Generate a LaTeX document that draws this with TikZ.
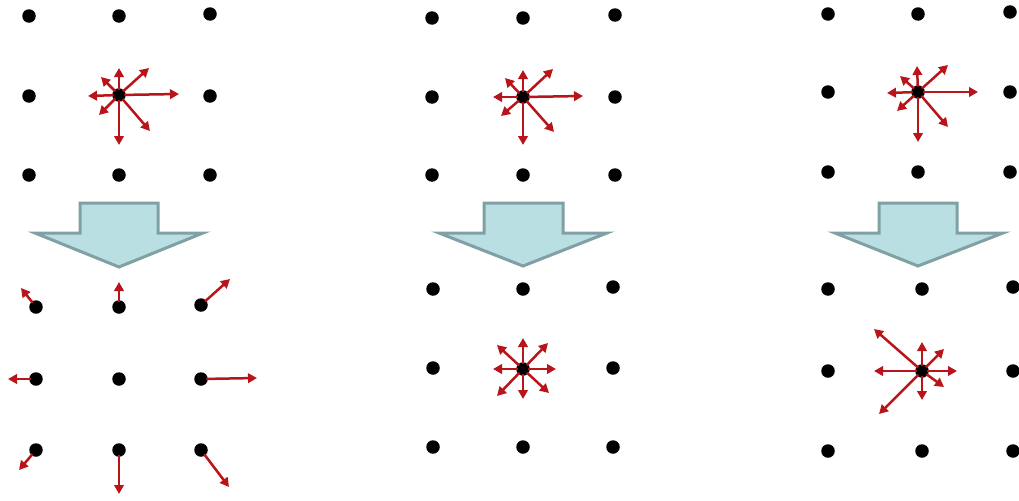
\documentclass[tikz,border=0pt]{standalone}
\usepackage{xcolor}
\usepackage{tikz}
\usetikzlibrary{arrows.meta}
\definecolor{vecred}{RGB}{185,20,25}
\definecolor{blockfill}{RGB}{186,223,227}
\definecolor{blockline}{RGB}{128,160,163}
\begin{document}
\begin{tikzpicture}[x=0.2mm,y=-0.2mm,>={Triangle[length=1.8mm,width=1.9mm]},
  dot/.style={circle,fill=black,inner sep=0pt,minimum size=2.7mm},
  vec/.style={->,vecred,line width=0.5mm,shorten <=-1pt},
  blockarrow/.style={fill=blockfill,draw=blockline,line width=0.6mm,line join=miter}]
  \useasboundingbox (0,0) rectangle (1019,500);
  % panel 1, before
  \node[dot] (a11) at (29,16) {};
  \node[dot] (a12) at (119,16) {};
  \node[dot] (a13) at (210,14) {};
  \node[dot] (a21) at (29,96) {};
  \node[dot] (a22) at (119,95) {};
  \node[dot] (a23) at (210,96) {};
  \node[dot] (a31) at (29,175) {};
  \node[dot] (a32) at (119,175) {};
  \node[dot] (a33) at (210,175) {};
  \coordinate (a22u) at (119,68);
  \coordinate (a22ur) at (149,68);
  \coordinate (a22r) at (179,94);
  \coordinate (a22dr) at (150,131);
  \coordinate (a22d) at (119,145);
  \coordinate (a22dl) at (99,115);
  \coordinate (a22l) at (88,96);
  \coordinate (a22ul) at (101,77);
  \draw[vec] (a22) -- (a22u);
  \draw[vec] (a22) -- (a22ur);
  \draw[vec] (a22) -- (a22r);
  \draw[vec] (a22) -- (a22dr);
  \draw[vec] (a22) -- (a22d);
  \draw[vec] (a22) -- (a22dl);
  \draw[vec] (a22) -- (a22l);
  \draw[vec] (a22) -- (a22ul);
  \draw[blockarrow] (80,203) -- (158,203) -- (158,233) -- (203,233) -- (119,267) -- (35,233) -- (80,233) -- cycle;
  % panel 1, after streaming
  \node[dot] (b11) at (36,307) {};
  \node[dot] (b12) at (119,307) {};
  \node[dot] (b13) at (201,305) {};
  \node[dot] (b21) at (36,379) {};
  \node[dot] (b22) at (119,379) {};
  \node[dot] (b23) at (201,379) {};
  \node[dot] (b31) at (36,450) {};
  \node[dot] (b32) at (119,450) {};
  \node[dot] (b33) at (201,450) {};
  \coordinate (b11e) at (21,288);
  \coordinate (b12e) at (119,282);
  \coordinate (b13e) at (230,279);
  \coordinate (b21e) at (8,379);
  \coordinate (b23e) at (257,378);
  \coordinate (b31e) at (19,470);
  \coordinate (b32e) at (119,494);
  \coordinate (b33e) at (229,487);
  \draw[vec] (b11) -- (b11e);
  \draw[vec] (b12) -- (b12e);
  \draw[vec] (b13) -- (b13e);
  \draw[vec] (b21) -- (b21e);
  \draw[vec] (b23) -- (b23e);
  \draw[vec] (b31) -- (b31e);
  \draw[vec] (b32) -- (b32e);
  \draw[vec] (b33) -- (b33e);
  % panel 2, before
  \node[dot] (c11) at (432,18) {};
  \node[dot] (c12) at (523,18) {};
  \node[dot] (c13) at (615,15) {};
  \node[dot] (c21) at (432,97) {};
  \node[dot] (c22) at (523,97) {};
  \node[dot] (c23) at (615,97) {};
  \node[dot] (c31) at (432,175) {};
  \node[dot] (c32) at (523,175) {};
  \node[dot] (c33) at (615,175) {};
  \coordinate (c22u) at (523,70);
  \coordinate (c22ur) at (553,69);
  \coordinate (c22r) at (583,96);
  \coordinate (c22dr) at (554,132);
  \coordinate (c22d) at (523,145);
  \coordinate (c22dl) at (501,116);
  \coordinate (c22l) at (493,97);
  \coordinate (c22ul) at (505,78);
  \draw[vec] (c22) -- (c22u);
  \draw[vec] (c22) -- (c22ur);
  \draw[vec] (c22) -- (c22r);
  \draw[vec] (c22) -- (c22dr);
  \draw[vec] (c22) -- (c22d);
  \draw[vec] (c22) -- (c22dl);
  \draw[vec] (c22) -- (c22l);
  \draw[vec] (c22) -- (c22ul);
  \draw[blockarrow] (484,203) -- (563,203) -- (563,233) -- (607,233) -- (523,266) -- (439,233) -- (484,233) -- cycle;
  % panel 2, after collision
  \node[dot] (d11) at (433,289) {};
  \node[dot] (d12) at (523,289) {};
  \node[dot] (d13) at (613,287) {};
  \node[dot] (d21) at (433,368) {};
  \node[dot] (d22) at (523,369) {};
  \node[dot] (d23) at (613,368) {};
  \node[dot] (d31) at (433,447) {};
  \node[dot] (d32) at (523,447) {};
  \node[dot] (d33) at (613,447) {};
  \coordinate (d22u) at (523,338);
  \coordinate (d22ur) at (548,343);
  \coordinate (d22r) at (556,369);
  \coordinate (d22dr) at (549,393);
  \coordinate (d22d) at (523,399);
  \coordinate (d22dl) at (497,396);
  \coordinate (d22l) at (493,369);
  \coordinate (d22ul) at (497,345);
  \draw[vec] (d22) -- (d22u);
  \draw[vec] (d22) -- (d22ur);
  \draw[vec] (d22) -- (d22r);
  \draw[vec] (d22) -- (d22dr);
  \draw[vec] (d22) -- (d22d);
  \draw[vec] (d22) -- (d22dl);
  \draw[vec] (d22) -- (d22l);
  \draw[vec] (d22) -- (d22ul);
  % panel 3, before
  \node[dot] (e11) at (828,14) {};
  \node[dot] (e12) at (918,14) {};
  \node[dot] (e13) at (1010,12) {};
  \node[dot] (e21) at (828,92) {};
  \node[dot] (e22) at (918,92) {};
  \node[dot] (e23) at (1010,92) {};
  \node[dot] (e31) at (828,172) {};
  \node[dot] (e32) at (918,172) {};
  \node[dot] (e33) at (1010,172) {};
  \coordinate (e22u) at (917,66);
  \coordinate (e22ur) at (948,65);
  \coordinate (e22r) at (978,92);
  \coordinate (e22dr) at (948,127);
  \coordinate (e22d) at (918,142);
  \coordinate (e22dl) at (897,111);
  \coordinate (e22l) at (887,93);
  \coordinate (e22ul) at (900,76);
  \draw[vec] (e22) -- (e22u);
  \draw[vec] (e22) -- (e22ur);
  \draw[vec] (e22) -- (e22r);
  \draw[vec] (e22) -- (e22dr);
  \draw[vec] (e22) -- (e22d);
  \draw[vec] (e22) -- (e22dl);
  \draw[vec] (e22) -- (e22l);
  \draw[vec] (e22) -- (e22ul);
  \draw[blockarrow] (879,203) -- (957,203) -- (957,233) -- (1003,233) -- (918,266) -- (835,233) -- (879,233) -- cycle;
  % panel 3, after collision
  \node[dot] (f11) at (828,289) {};
  \node[dot] (f12) at (922,289) {};
  \node[dot] (f13) at (1013,287) {};
  \node[dot] (f21) at (828,371) {};
  \node[dot] (f22) at (922,371) {};
  \node[dot] (f23) at (1013,371) {};
  \node[dot] (f31) at (828,451) {};
  \node[dot] (f32) at (922,451) {};
  \node[dot] (f33) at (1013,451) {};
  \coordinate (f22u) at (922,342);
  \coordinate (f22ur) at (944,349);
  \coordinate (f22r) at (957,371);
  \coordinate (f22dr) at (944,387);
  \coordinate (f22d) at (922,400);
  \coordinate (f22dl) at (879,414);
  \coordinate (f22l) at (874,371);
  \coordinate (f22ul) at (874,329);
  \draw[vec] (f22) -- (f22u);
  \draw[vec] (f22) -- (f22ur);
  \draw[vec] (f22) -- (f22r);
  \draw[vec] (f22) -- (f22dr);
  \draw[vec] (f22) -- (f22d);
  \draw[vec] (f22) -- (f22dl);
  \draw[vec] (f22) -- (f22l);
  \draw[vec] (f22) -- (f22ul);
\end{tikzpicture}
\end{document}
